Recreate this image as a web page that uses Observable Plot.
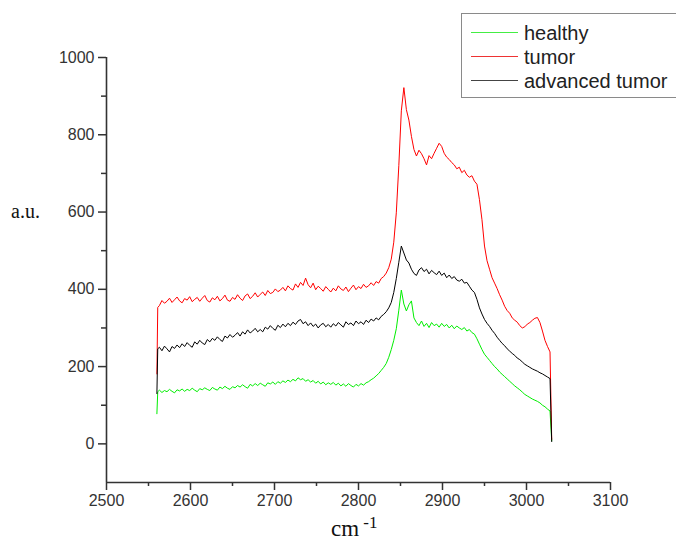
<!DOCTYPE html>
<html>
<head>
<meta charset="utf-8">
<script src="https://cdn.jsdelivr.net/npm/d3@7"></script>
<script src="https://cdn.jsdelivr.net/npm/@observablehq/plot@0.6"></script>
<style>
  html, body { margin: 0; padding: 0; background: #fff; }
  #wrap { position: relative; width: 676px; height: 541px; overflow: hidden; font-family: "Liberation Sans", Arial, sans-serif; }
  #chart { position: absolute; left: 0; top: 0; }
  .legend { position: absolute; left: 461px; top: 13px; width: 230px; height: 85px; border: 1px solid #8a8a8a; box-sizing: border-box; background: #fff; }
  .item { position: absolute; left: 9px; height: 24px; }
  .item .sw { position: absolute; left: 0; width: 47px; top: 11px; height: 0; border-top: 1px solid; }
  .item .lb { position: absolute; left: 53px; top: 0; font-size: 20px; line-height: 24px; color: #222; white-space: nowrap; }
  .ylab { position: absolute; left: 11px; top: 200px; font-family: "Liberation Serif", "Times New Roman", serif; font-size: 20px; color: #111; }
  .xlab { position: absolute; left: 331px; top: 516px; font-family: "Liberation Serif", "Times New Roman", serif; font-size: 23px; color: #111; white-space: nowrap; }
  .xlab sup { font-size: 17px; position: relative; top: -3px; vertical-align: top; }
</style>
</head>
<body>
<div id="wrap">
  <div id="chart"></div>
  <div class="ylab">a.u.</div>
  <div class="xlab">cm<sup> -1</sup></div>
  <div class="legend" id="legend"></div>
</div>
<script>
// wavenumber grid (cm-1)
const wavenumber = [2560, 2561,
  2563, 2566, 2569, 2572, 2575, 2578, 2581, 2584, 2587, 2590,
  2593, 2596, 2599, 2602, 2605, 2608, 2611, 2614, 2617, 2620,
  2623, 2626, 2629, 2632, 2635, 2638, 2641, 2644, 2647, 2650,
  2653, 2656, 2659, 2662, 2665, 2668, 2671, 2674, 2677, 2680,
  2683, 2686, 2689, 2692, 2695, 2698, 2701, 2704, 2707, 2710,
  2713, 2716, 2719, 2722, 2725, 2728, 2731, 2734, 2737, 2740,
  2743, 2746, 2749, 2752, 2755, 2758, 2761, 2764, 2767, 2770,
  2773, 2776, 2779, 2782, 2785, 2788, 2791, 2794, 2797, 2800,
  2803, 2806, 2809, 2812, 2815, 2818, 2821, 2824, 2827, 2830,
  2833, 2836, 2839, 2842, 2845, 2848, 2851, 2854, 2857, 2860,
  2863, 2866, 2869, 2872, 2875, 2878, 2881, 2884, 2887, 2890,
  2893, 2896, 2899, 2902, 2905, 2908, 2911, 2914, 2917, 2920,
  2923, 2926, 2929, 2932, 2935, 2938, 2941, 2944, 2947, 2950,
  2953, 2956, 2959, 2962, 2965, 2968, 2971, 2974, 2977, 2980,
  2983, 2986, 2989, 2992, 2995, 2998, 3001, 3004, 3007, 3010,
  3013, 3016, 3019, 3022, 3025, 3028, 3030];

const tumor = [181, 353,
  358, 371, 364, 369, 377, 366, 373, 380, 370, 365,
  376, 372, 381, 368, 374, 379, 369, 377, 384, 371,
  367, 378, 373, 382, 370, 376, 385, 372, 369, 379,
  374, 386, 377, 371, 383, 388, 376, 382, 391, 380,
  387, 393, 384, 397, 389, 392, 401, 394, 398, 405,
  396, 409, 402, 398, 414, 405, 418, 410, 429, 412,
  404, 416, 399, 408, 402, 395, 407, 400, 393, 403,
  396, 409, 401, 397, 406, 394, 403, 411, 399, 407,
  402, 413, 405, 409, 417, 410, 420, 416, 428, 433,
  442, 456, 478, 522, 598, 720, 862, 922, 865, 838,
  796, 762, 745, 760, 751, 738, 722, 746, 738, 752,
  765, 778, 770, 752, 742, 736, 728, 722, 712, 716,
  702, 708, 696, 690, 694, 680, 672, 632, 580, 512,
  474, 452, 430, 416, 402, 386, 372, 356, 345, 338,
  326, 320, 315, 306, 300, 303, 310, 314, 320, 325,
  327, 314, 292, 268, 252, 238, 12];

const advanced = [130, 246,
  250, 241, 253, 246, 238, 252, 247, 256, 249, 259,
  252, 262, 255, 250, 264, 258, 268, 261, 257, 270,
  264, 273, 268, 277, 270, 265, 279, 274, 283, 276,
  281, 288, 279, 290, 284, 295, 287, 292, 299, 290,
  296, 290, 302, 297, 306, 299, 294, 307, 301, 310,
  303, 312, 306, 315, 309, 318, 322, 311, 316, 306,
  313, 304, 310, 300, 308, 312, 303, 309, 302, 311,
  305, 314, 308, 302, 316, 309, 313, 306, 318, 311,
  316, 309, 320, 314, 323, 318, 326, 321, 330, 335,
  342, 352, 366, 392, 428, 470, 512, 494, 476, 468,
  452, 441, 436, 450, 456, 446, 452, 440, 449, 443,
  438, 447, 436, 442, 430, 437, 428, 433, 424, 421,
  426, 416, 418, 408, 398, 392, 374, 352, 336, 322,
  312, 304, 294, 286, 276, 268, 260, 254, 246, 240,
  234, 229, 222, 218, 212, 206, 202, 198, 194, 191,
  188, 184, 181, 177, 173, 169, 6];

const healthy = [78, 135,
  139, 133, 138, 135, 141, 136, 132, 140, 137, 142,
  136, 141, 138, 144, 139, 135, 143, 140, 145, 141,
  138, 146, 142, 139, 147, 143, 149, 144, 141, 148,
  145, 151, 147, 153, 148, 144, 154, 150, 156, 151,
  157, 153, 149, 158, 155, 160, 154, 161, 157, 163,
  159, 165, 161, 167, 163, 171, 166, 169, 162, 166,
  160, 164, 157, 162, 155, 160, 153, 158, 154, 159,
  152, 157, 150, 155, 149, 156, 151, 147, 154, 150,
  156, 152, 158, 161, 166, 170, 176, 182, 190, 198,
  208, 224, 244, 268, 298, 346, 398, 362, 344, 360,
  370, 326, 314, 306, 318, 304, 312, 301, 314, 306,
  310, 302, 312, 304, 309, 300, 307, 298, 305, 300,
  296, 301, 292, 296, 288, 284, 272, 258, 244, 232,
  224, 216, 208, 200, 194, 186, 180, 174, 168, 162,
  156, 150, 145, 140, 134, 128, 124, 120, 116, 113,
  110, 106, 100, 96, 90, 85, 8];

const seriesNames = ["healthy", "tumor", "advanced tumor"];
const seriesColors = ["#00ee00", "#ff0000", "#000000"];
const seriesValues = [healthy, tumor, advanced];

const xMajor = [2500, 2600, 2700, 2800, 2900, 3000, 3100];
const xMinor = [2550, 2650, 2750, 2850, 2950, 3050];
const yMajor = [0, 200, 400, 600, 800, 1000];
const yMinor = [100, 300, 500, 700, 900];

const lineMarks = seriesValues.map((vals, k) =>
  Plot.line(vals, {x: (d, i) => wavenumber[i], y: d => d, stroke: seriesColors[k], strokeWidth: 1})
);

const chart = Plot.plot({
  width: 676,
  height: 541,
  marginTop: 57,
  marginBottom: 59,
  marginLeft: 106,
  marginRight: 66,
  style: {fontFamily: "'Liberation Sans', Arial, sans-serif", fontSize: "16px", color: "#333", background: "#fff"},
  x: {domain: [2500, 3100]},
  y: {domain: [-100, 1000]},
  marks: [
    ...lineMarks,
    Plot.axisX(xMajor, {tickSize: 8, tickPadding: 4, tickFormat: d3.format("d"), label: null, stroke: "#333", strokeWidth: 1.5, fill: "#333"}),
    Plot.axisX(xMinor, {tickSize: 4, tickFormat: () => "", label: null, stroke: "#333", strokeWidth: 1.5}),
    Plot.axisY(yMajor, {tickSize: 8, tickPadding: 4, tickFormat: d3.format("d"), label: null, stroke: "#333", strokeWidth: 1.5, fill: "#333"}),
    Plot.axisY(yMinor, {tickSize: 5, tickFormat: () => "", label: null, stroke: "#333", strokeWidth: 1.5}),
    Plot.ruleX([2500], {y1: -100, y2: 1000, stroke: "#333", strokeWidth: 1.6}),
    Plot.ruleY([-100], {x1: 2500, x2: 3100, stroke: "#333", strokeWidth: 1.6})
  ]
});
document.getElementById("chart").appendChild(chart);

const legend = document.getElementById("legend");
seriesNames.forEach((name, k) => {
  const it = document.createElement("div");
  it.className = "item";
  it.style.top = (7 + k * 24) + "px";
  const sw = document.createElement("div");
  sw.className = "sw";
  sw.style.borderTopColor = k === 0 ? "#44ee44" : k === 1 ? "#ee3333" : "#444";
  const lb = document.createElement("div");
  lb.className = "lb";
  lb.textContent = name;
  it.appendChild(sw);
  it.appendChild(lb);
  legend.appendChild(it);
});
</script>
</body>
</html>
